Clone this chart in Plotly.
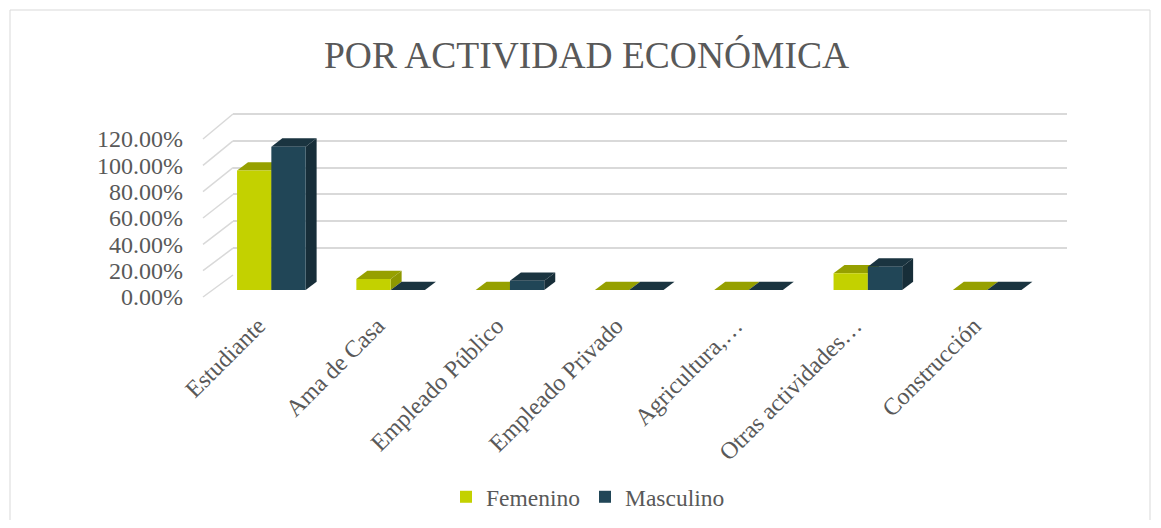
import plotly.graph_objects as go

# ---------------- data ----------------
categories = ["Estudiante", "Ama de Casa", "Empleado Público", "Empleado Privado",
              "Agricultura,…", "Otras actividades…", "Construcción"]
femenino = [90.2, 8.3, 0.0, 0.0, 0.0, 12.6, 0.0]
masculino = [108.2, 0.0, 7.0, 0.0, 0.0, 17.6, 0.0]
y_ticks = [0, 20, 40, 60, 80, 100, 120]
y_ticklabels = [f"{v:.2f}%" for v in y_ticks]
series_names = ["Femenino", "Masculino"]

# ---------------- style ----------------
O = 8                      # page body margin
W, H = 1161 - 2 * O, 528 - 2 * O
FONT = "Liberation Serif, Times New Roman, serif"
TXT = "#595959"
GRID = "#d9d9d9"
front_cols = ["#c3d100", "#214657"]
top_cols = ["#96a000", "#1a3440"]
side_cols = ["#8e9800", "#172e39"]

# plot area in page pixels
L, R, T, B = 203, 1067, 105, 297
PW, PH = R - L, B - T


def fy(py):
    return (B - py) / PH


def fx(px):
    return (px - L) / PW


BARGAP = 0.425
BW = (1 - BARGAP) / 2          # width of one bar in category units
DX = 0.092                      # depth offset (category units)
DY = 6.3                        # depth offset (value units)

fig = go.Figure()

fig.add_trace(go.Scatter(x=[None], y=[None], xaxis="x", yaxis="y",
                         showlegend=False, hoverinfo="skip"))
fig.add_trace(go.Scatter(x=[None], y=[None], xaxis="x3", yaxis="y3",
                         showlegend=False, hoverinfo="skip"))

xs = list(range(len(categories)))
for s, (name, vals) in enumerate(zip(series_names, [femenino, masculino])):
    fig.add_trace(go.Bar(x=xs, y=vals, name=name, xaxis="x2", yaxis="y2",
                         marker=dict(color=front_cols[s], line=dict(width=0))))

# 3D faces (top + side) derived from the data
shapes = []
for s, vals in enumerate([femenino, masculino]):
    off = -BW / 2 if s == 0 else BW / 2
    for i, v in enumerate(vals):
        c = i + off
        x0, x1 = c - BW / 2, c + BW / 2
        top = (f"M {x0},{v} L {x1},{v} L {x1 + DX},{v + DY} "
               f"L {x0 + DX},{v + DY} Z")
        shapes.append(dict(type="path", path=top, xref="x2", yref="y2",
                           fillcolor=top_cols[s], line=dict(width=0),
                           layer="below"))
        if v > 0:
            side = (f"M {x1},0 L {x1},{v} L {x1 + DX},{v + DY} "
                    f"L {x1 + DX},{DY} Z")
            shapes.append(dict(type="path", path=side, xref="x2", yref="y2",
                               fillcolor=side_cols[s], line=dict(width=0),
                               layer="below"))

# side-wall diagonal grid lines (front corner -> back wall)
n = len(y_ticks) - 1
for k in range(len(y_ticks)):
    yf = fy(297 - k * (297 - 139) / n)
    yb = fy(275 - k * (275 - 114) / n)
    shapes.append(dict(type="line", xref="paper", yref="paper",
                       x0=0, y0=yf, x1=fx(233), y1=yb,
                       line=dict(color=GRID, width=1.5), layer="below"))

# chart border
shapes.append(dict(type="rect", xref="paper", yref="paper",
                   x0=fx(10), x1=fx(1150), y0=fy(540), y1=fy(10),
                   line=dict(color="#d9d9d9", width=1), fillcolor="rgba(0,0,0,0)",
                   layer="below"))

back_top = 114 - (161 / 120) * 1.0   # allow range to 121 so the 120 line shows

fig.update_layout(
    width=W, height=H,
    margin=dict(l=L - O, r=W - (R - O), t=T - O, b=H - (B - O), autoexpand=False),
    paper_bgcolor="white", plot_bgcolor="rgba(0,0,0,0)",
    font=dict(family=FONT, color=TXT, size=23),
    title=dict(text="POR ACTIVIDAD ECONÓMICA", x=(586.5 - O) / W, xanchor="center",
               y=1 - (55 - O) / H, yanchor="middle",
               font=dict(family=FONT, size=37.5, color=TXT)),
    barmode="group", bargap=BARGAP, bargroupgap=0,
    showlegend=True,
    legend=dict(orientation="h", x=fx(588), xanchor="center",
                y=fy(497), yanchor="middle",
                font=dict(family=FONT, size=23.5, color=TXT),
                itemwidth=30, tracegroupgap=0),
    shapes=shapes,
    # back wall grid
    xaxis=dict(domain=[fx(233), 1], range=[0, 1], visible=False),
    yaxis=dict(domain=[fy(275), fy(back_top)], range=[0, 121], anchor="x",
               showgrid=True, gridcolor=GRID, gridwidth=1.5,
               tickvals=y_ticks, showticklabels=False, zeroline=False,
               showline=False, ticks=""),
    # bars
    xaxis2=dict(domain=[fx(211.7), fx(1046.8)],
                range=[-0.5, len(categories) - 0.5], anchor="y2",
                tickvals=[x - 0.11 for x in xs], ticktext=categories, tickangle=-45,
                showgrid=False, zeroline=False, showline=False, ticks="",
                ticklabelstandoff=16,
                tickfont=dict(family=FONT, size=24, color=TXT)),
    yaxis2=dict(domain=[fy(290), fy(131.06)], range=[0, 120],
                anchor="x2", visible=False),
    # tick labels
    xaxis3=dict(domain=[0, 0.01], visible=False, anchor="y3"),
    yaxis3=dict(domain=[0, fy(139)], range=[0, 120], anchor="x3",
                tickvals=y_ticks, ticktext=y_ticklabels, showgrid=False,
                zeroline=False, showline=False, ticks="",
                ticklabelstandoff=19,
                tickfont=dict(family=FONT, size=24, color=TXT)),
)

fig.write_html("out.html")
